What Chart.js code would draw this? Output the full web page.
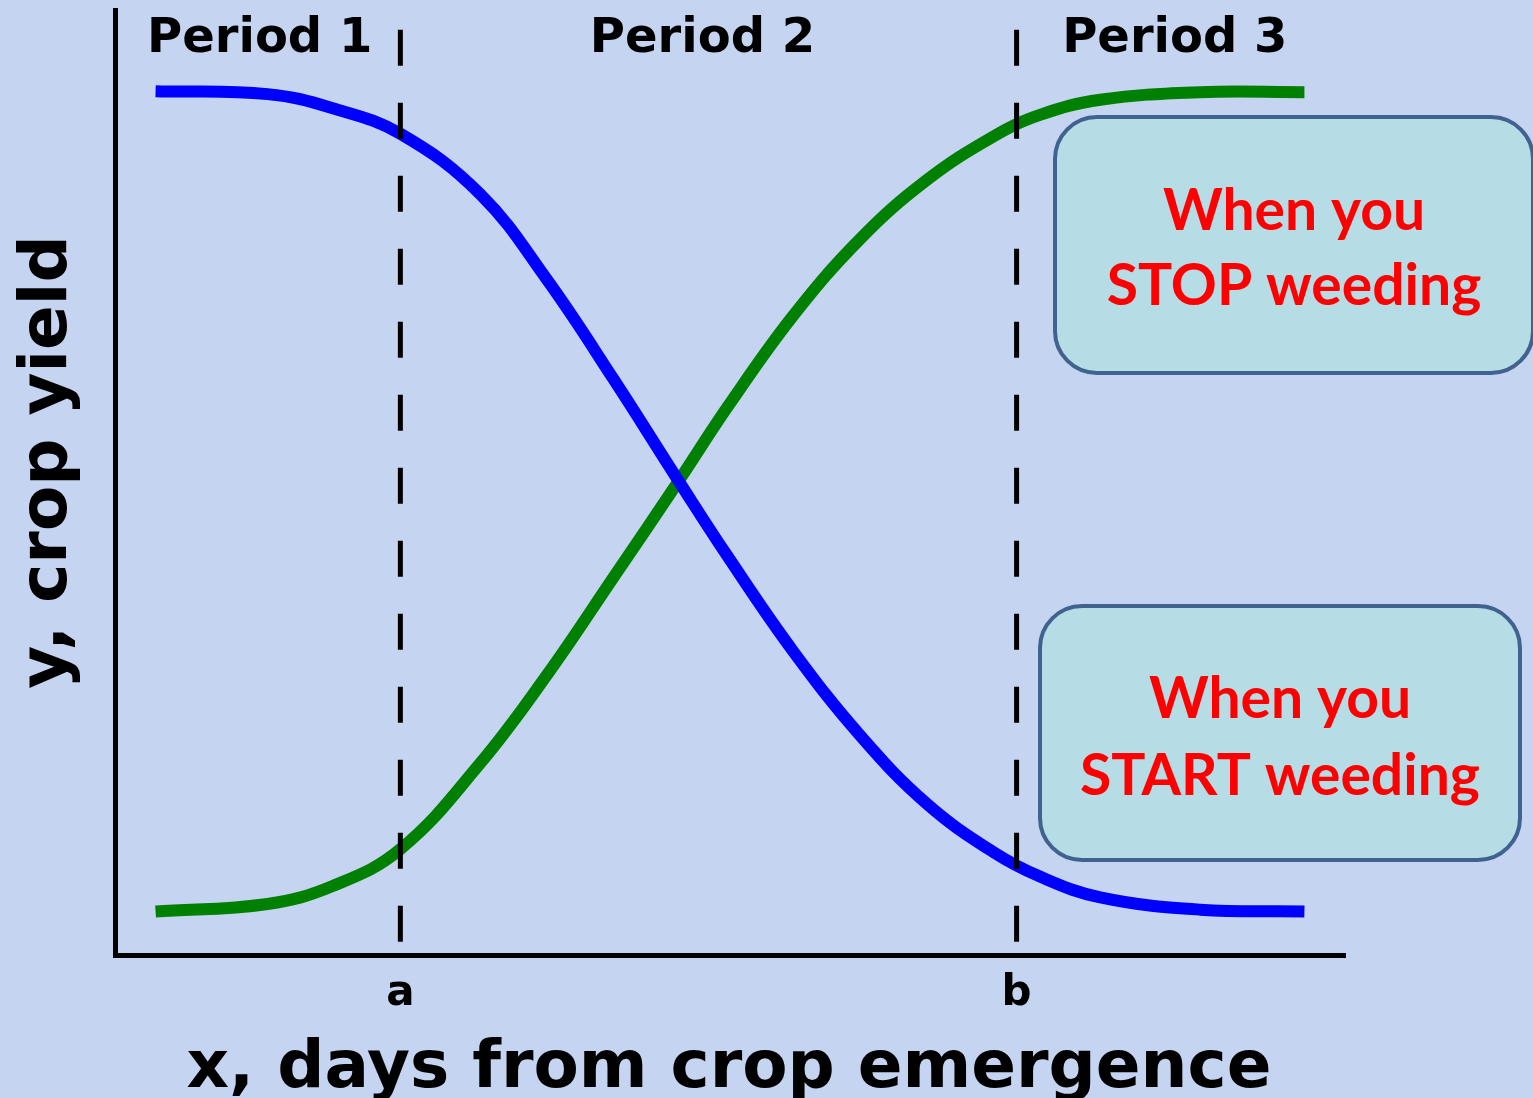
<!DOCTYPE html>
<html>
<head>
<meta charset="utf-8">
<title>Critical period of weed control</title>
<script src="https://cdn.jsdelivr.net/npm/chart.js@4.4.1/dist/chart.umd.min.js"></script>
<style>
  html, body { margin: 0; padding: 0; background: #c5d4f1; overflow: hidden; }
  canvas { display: block; }
</style>
</head>
<body>
<canvas id="weedChart" width="1533" height="1098"></canvas>
<script>
// x, days from crop emergence (axis 0..100)
const days = [3.3, 12.4, 17.7, 23.2, 29.7, 35.1, 40.5, 45.9, 49.8, 55.1, 60.6, 66.0, 71.4, 75.2, 80.1, 88.2, 96.7];
// blue: yield vs. when you START weeding
const yieldStart = [91.4, 91.1, 89.6, 86.9, 80.5, 71.5, 61.0, 50.0, 42.2, 32.2, 23.2, 16.0, 10.9, 8.3, 6.1, 4.8, 4.6];
// green: yield vs. when you STOP weeding
const yieldStop = [4.6, 5.4, 7.3, 11.2, 20.3, 29.6, 39.9, 50.3, 58.0, 67.6, 75.8, 82.0, 86.6, 88.9, 90.5, 91.3, 91.3];

const boundaries = [23.2, 73.3];
const boundaryLabels = ['a', 'b'];
const boundaryTop = 97.9;
const periodLabels = ['Period 1', 'Period 2', 'Period 3'];
const boxTexts = [['When you', 'STOP weeding'], ['When you', 'START weeding']];

const xTitle = 'x, days from crop emergence';
const yTitle = 'y, crop yield';

function toPoints(xs, ys) {
  return xs.map((v, i) => ({ x: v, y: ys[i] }));
}

function roundBox(ctx, x, y, w, h, r, lines, cy1, cy2) {
  ctx.beginPath();
  ctx.roundRect(x, y, w, h, r);
  ctx.fillStyle = '#b6dce6';
  ctx.fill();
  ctx.lineWidth = 4;
  ctx.strokeStyle = '#40628e';
  ctx.stroke();
  ctx.fillStyle = '#ff0000';
  ctx.font = 'bold 57px Lato';
  ctx.textAlign = 'center';
  ctx.textBaseline = 'alphabetic';
  const cx = x + w / 2;
  ctx.fillText(lines[0], cx, cy1);
  ctx.fillText(lines[1], cx, cy2);
}

const background = {
  id: 'background',
  beforeDraw(chart) {
    const ctx = chart.ctx;
    ctx.save();
    ctx.fillStyle = '#c5d4f1';
    ctx.fillRect(0, 0, chart.width, chart.height);
    ctx.restore();
  }
};

const annotations = {
  id: 'annotations',
  afterDraw(chart) {
    const { ctx } = chart;
    const x = chart.scales.x;
    ctx.save();
    ctx.fillStyle = '#000';
    ctx.textAlign = 'center';
    ctx.textBaseline = 'alphabetic';

    // period titles, centred between the boundaries (nudged like the original)
    ctx.font = 'bold 48px "DejaVu Sans"';
    const edges = [x.min, ...boundaries, x.max];
    const nudge = [2, -6, -6];
    periodLabels.forEach((t, i) => {
      const cx = (x.getPixelForValue(edges[i]) + x.getPixelForValue(edges[i + 1])) / 2;
      ctx.fillText(t, cx + nudge[i], 52);
    });

    // axis titles
    ctx.font = 'bold 66px "DejaVu Sans"';
    ctx.fillText(xTitle, 729, 1087);
    ctx.save();
    ctx.translate(66, 462);
    ctx.rotate(-Math.PI / 2);
    ctx.fillText(yTitle, 0, 0);
    ctx.restore();

    // callout boxes
    roundBox(ctx, 1055, 117, 478, 256, 42, boxTexts[0], 230, 305);
    roundBox(ctx, 1040, 606, 480, 254, 42, boxTexts[1], 718, 795);
    ctx.restore();
  }
};

const dividerSets = boundaries.map(b => ({
  data: [{ x: b, y: boundaryTop }, { x: b, y: 0 }],
  borderColor: '#000',
  borderWidth: 5,
  borderDash: [36, 37],
  borderCapStyle: 'butt',
  pointRadius: 0,
  order: 0
}));

new Chart(document.getElementById('weedChart'), {
  type: 'line',
  data: {
    datasets: [
      ...dividerSets,
      {
        label: 'START weeding',
        data: toPoints(days, yieldStart),
        borderColor: '#0000ff',
        borderWidth: 12,
        borderCapStyle: 'butt',
        tension: 0.4,
        pointRadius: 0,
        order: 1
      },
      {
        label: 'STOP weeding',
        data: toPoints(days, yieldStop),
        borderColor: '#008000',
        borderWidth: 12,
        borderCapStyle: 'butt',
        tension: 0.4,
        pointRadius: 0,
        order: 1
      }
    ]
  },
  options: {
    responsive: false,
    animation: false,
    layout: { padding: { left: 0, top: 10, right: 188, bottom: 0 } },
    plugins: { legend: { display: false }, tooltip: { enabled: false } },
    scales: {
      x: {
        type: 'linear',
        min: 0,
        max: 100,
        grid: { display: false },
        border: { display: true, color: '#000', width: 5 },
        afterFit(scale) { scale.height = 143; },
        afterBuildTicks(scale) { scale.ticks = boundaries.map(v => ({ value: v })); },
        ticks: {
          color: '#000',
          padding: 6,
          font: { family: 'DejaVu Sans', weight: 'bold', size: 42 },
          callback: v => boundaryLabels[boundaries.indexOf(v)]
        }
      },
      y: {
        type: 'linear',
        min: 0,
        max: 100,
        grid: { display: false },
        border: { display: true, color: '#000', width: 5 },
        afterFit(scale) { scale.width = 115; },
        ticks: { display: false }
      }
    }
  },
  plugins: [background, annotations]
});
</script>
</body>
</html>
